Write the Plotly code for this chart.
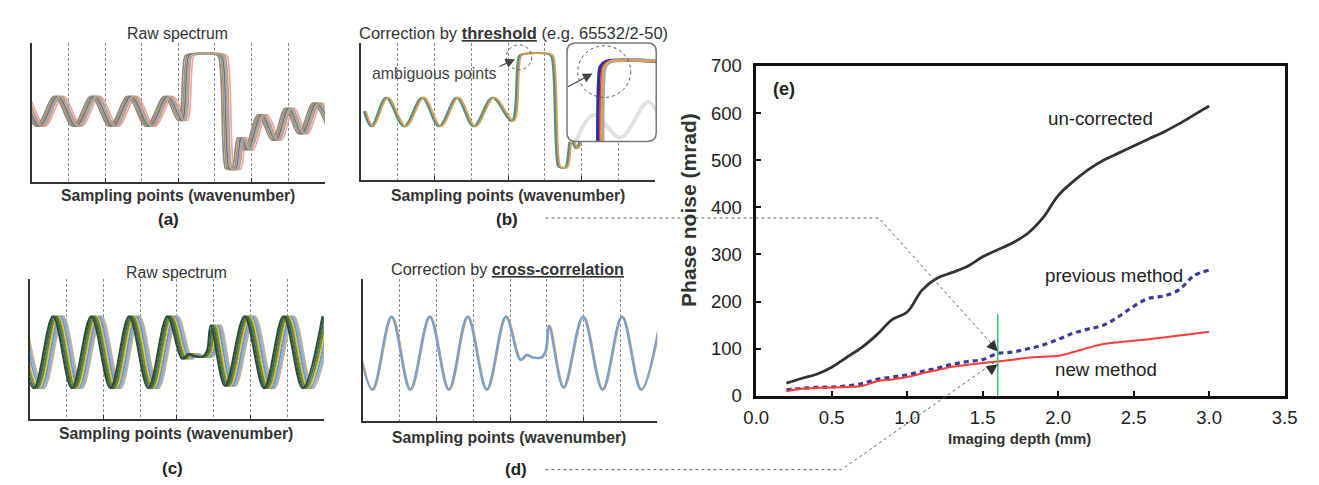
import plotly.graph_objects as go

W, H = 1319, 485
FONT = "Liberation Sans, Arial, sans-serif"

# ---------------- panel (e) data ----------------
depth_mm = [0.2, 0.3, 0.4, 0.5, 0.6, 0.7, 0.8, 0.9, 1.0, 1.1, 1.2, 1.3, 1.4, 1.5,
            1.6, 1.7, 1.8, 1.9, 2.0, 2.1, 2.2, 2.3, 2.4, 2.5, 2.6, 2.7, 2.8, 2.9, 3.0]
uncorrected = [27, 37, 46, 61, 82, 103, 130, 162, 178, 225, 250, 262, 275, 295,
               310, 325, 345, 378, 425, 455, 480, 500, 515, 530, 545, 560, 577, 596, 615]
previous_method = [13, 16, 18, 19, 21, 26, 35, 40, 45, 52, 59, 67, 73, 77,
                   90, 93, 100, 108, 120, 133, 142, 150, 168, 190, 207, 212, 225, 255, 267]
new_method = [10, 15, 17, 18, 19, 21, 31, 35, 40, 48, 55, 62, 66, 70,
              73, 77, 81, 83, 85, 93, 102, 110, 114, 117, 120, 124, 128, 132, 136]
marker_depth = 1.6
marker_top = 174
e_xticks = [0.0, 0.5, 1.0, 1.5, 2.0, 2.5, 3.0, 3.5]
e_yticks = [0, 100, 200, 300, 400, 500, 600, 700]

# ---------------- spectra (normalised amplitude) ----------------
a_x = [-0.78, -0.28, 0.22, 0.72, 1.22, 1.72, 2.22, 2.72, 3.22, 3.72, 4.1, 4.28, 4.36,
       5.12, 5.2, 5.38, 5.44, 5.56, 5.72, 5.9, 6.28, 6.66, 7.02, 7.38, 7.78, 8.2]
a_v = [0.40, 0.614, 0.40, 0.614, 0.40, 0.614, 0.40, 0.614, 0.40, 0.614, 0.44, 0.905, 0.917,
       0.917, 0.90, 0.10, 0.09, 0.09, 0.317, 0.228, 0.483, 0.297, 0.53, 0.345, 0.566, 0.36]
a_shifts = [0.14, -0.10, -0.05, 0.0, 0.04, 0.08]

b_x = [0.1, 0.3, 0.7, 1.19, 1.68, 2.14, 2.62, 3.08, 3.59, 4.12, 4.32, 4.42, 5.12, 5.2,
       5.38, 5.44, 5.58, 5.72, 5.87, 6.25, 6.65, 7.02, 7.4, 7.8, 8.2]
b_v = [0.50, 0.39, 0.60, 0.39, 0.60, 0.39, 0.60, 0.39, 0.60, 0.43, 0.905, 0.918, 0.918, 0.90,
       0.10, 0.09, 0.09, 0.30, 0.23, 0.48, 0.30, 0.53, 0.35, 0.56, 0.30]
b_shifts = [-0.03, 0.0, 0.03]

cd_x = [-0.27, 0.25, 0.77, 1.28, 1.81, 2.33, 2.84, 3.36, 3.88, 4.28, 4.45, 4.6, 4.85, 4.96,
        5.06, 5.45, 5.98, 6.51, 7.04, 7.56, 8.1]
cd_v = [0.735, 0.22, 0.735, 0.22, 0.735, 0.22, 0.735, 0.22, 0.735, 0.43, 0.465, 0.448, 0.448,
        0.49, 0.67, 0.235, 0.735, 0.22, 0.735, 0.22, 0.735]
c_shifts = [0.14, 0.10, 0.05, 0.0, -0.04, -0.09, -0.14]
d_shifts = [0.015, 0.0]

inset_edge_x = [0.0, 0.01, 0.03, 0.09, 0.7]
inset_edge_v = [-0.05, 0.60, 0.76, 0.81, 0.81]
inset_edge_pos = [0.345, 0.37, 0.40, 0.385]
inset_sine_x = [0.1, 0.30, 0.60, 0.91, 1.1]
inset_sine_v = [0.0, 0.27, 0.04, 0.40, 0.1]
grid_vals = [1, 2, 3, 4, 5, 6, 7, 8]

# ---------------- styles ----------------
a_colors = ['#f3a3a3', '#8a8a8a', '#a89060', '#6e6e78', '#a0a8c0', '#b5a27c']
b_colors = ['#4f9a5f', '#5b7fb8', '#d9a24a']
c_colors = ['#c9b08a', '#8fb0d8', '#6f95c8', '#e6c436', '#6b8a3a', '#3d6b45', '#2e4a38']
d_colors = ['#d9b25a', '#7a9fd0']
inset_colors = ['#3030a0', '#e03030', '#a8a8a8', '#e0a040']
inset_widths = [3.5, 1.5, 3.5, 2]


def fx(p):
    return p / W


def fy(p):
    return 1 - p / H


fig = go.Figure()

# (e) main chart -> x / y
fig.add_trace(go.Scatter(x=depth_mm, y=uncorrected, mode='lines', line=dict(color='#333333', width=2.8, shape='spline'), xaxis='x', yaxis='y'))
fig.add_trace(go.Scatter(x=depth_mm, y=previous_method, mode='lines', line=dict(color='#3a3a98', width=3.2, dash='5px,4px', shape='spline'), xaxis='x', yaxis='y'))
fig.add_trace(go.Scatter(x=depth_mm, y=new_method, mode='lines', line=dict(color='#ff3b3b', width=2, shape='spline'), xaxis='x', yaxis='y'))

# (a) -> x2/y2
for s, c in zip(a_shifts, a_colors):
    fig.add_trace(go.Scatter(x=[v + s for v in a_x], y=a_v, mode='lines', line=dict(color=c, width=1.7, shape='spline'), xaxis='x2', yaxis='y2'))
# (b) -> x3/y3
for s, c in zip(b_shifts, b_colors):
    fig.add_trace(go.Scatter(x=[v + s for v in b_x], y=b_v, mode='lines', line=dict(color=c, width=1.8, shape='spline'), xaxis='x3', yaxis='y3'))
# (c) -> x4/y4
for s, c in zip(c_shifts, c_colors):
    fig.add_trace(go.Scatter(x=[v + s for v in cd_x], y=cd_v, mode='lines', line=dict(color=c, width=2, shape='spline'), xaxis='x4', yaxis='y4'))
# (d) -> x5/y5
for s, c in zip(d_shifts, d_colors):
    fig.add_trace(go.Scatter(x=[v + s for v in cd_x], y=cd_v, mode='lines', line=dict(color=c, width=2.4, shape='spline'), xaxis='x5', yaxis='y5'))

# inset -> x6/y6 (white background cover then zoomed curves)
fig.add_trace(go.Scatter(x=[0, 1, 1, 0, 0], y=[0, 0, 1, 1, 0], mode='lines', fill='toself', fillcolor='white', line=dict(width=0, color='white'), xaxis='x6', yaxis='y6'))
fig.add_trace(go.Scatter(x=inset_sine_x, y=inset_sine_v, mode='lines', line=dict(color='#e2e2e2', width=4, shape='spline'), xaxis='x6', yaxis='y6'))
for p, c, w in zip(inset_edge_pos, inset_colors, inset_widths):
    fig.add_trace(go.Scatter(x=[v + p for v in inset_edge_x], y=inset_edge_v, mode='lines', line=dict(color=c, width=w, shape='spline'), xaxis='x6', yaxis='y6'))


def spec_x(x0, x1, anchor):
    return dict(domain=[fx(x0), fx(x1)], range=[0, 8], anchor=anchor, showline=True, linecolor='#333333', linewidth=2,
                tickvals=[2, 4, 6], ticks='inside', ticklen=4, tickcolor='#333333', showticklabels=False,
                showgrid=False, zeroline=False,
                minor=dict(tickvals=grid_vals, showgrid=True, griddash='3px,2px', gridcolor='#8c8c8c', gridwidth=1, ticks=''))


def spec_y(y0, y1, anchor):
    return dict(domain=[fy(y1), fy(y0)], range=[0, 1], anchor=anchor, showline=True, linecolor='#333333', linewidth=2,
                showticklabels=False, ticks='', showgrid=False, zeroline=False)


fig.update_layout(
    width=W, height=H, margin=dict(l=0, r=0, t=0, b=0),
    paper_bgcolor='white', plot_bgcolor='white', showlegend=False,
    font=dict(family=FONT, color='#222222'),
    xaxis=dict(domain=[fx(750), fx(1289)], range=[0, 3.5], anchor='y', tickvals=e_xticks, tickformat='.1f',
               ticks='inside', ticklen=5, tickwidth=2, tickcolor='#111', showline=True, linewidth=2.5,
               linecolor='#111', mirror=True, showgrid=False, zeroline=False, ticklabelstandoff=3,
               tickfont=dict(size=18.5, family=FONT, color='#222')),
    yaxis=dict(domain=[fy(394), fy(49)], range=[0, 700], anchor='x', tickvals=e_yticks,
               ticks='inside', ticklen=5, tickwidth=2, tickcolor='#111', showline=True, linewidth=2.5,
               linecolor='#111', mirror=True, showgrid=False, zeroline=False, ticklabelstandoff=8,
               tickfont=dict(size=18.5, family=FONT, color='#222')),
    xaxis2=spec_x(11, 310, 'y2'), yaxis2=spec_y(25, 170, 'x2'),
    xaxis3=spec_x(347, 647, 'y3'), yaxis3=spec_y(25, 168, 'x3'),
    xaxis4=spec_x(9, 309, 'y4'), yaxis4=spec_y(272, 418, 'x4'),
    xaxis5=spec_x(349, 649, 'y5'), yaxis5=spec_y(272, 420, 'x5'),
    xaxis6=dict(domain=[fx(557), fx(648)], range=[0, 1], anchor='y6', visible=False),
    yaxis6=dict(domain=[fy(128), fy(25)], range=[0, 1], anchor='x6', visible=False),
)

shapes = []
# green marker line in (e)
shapes.append(dict(type='line', xref='x', yref='y', x0=marker_depth, x1=marker_depth, y0=0, y1=marker_top,
                   line=dict(color='#2ecc71', width=1.5), layer='above'))
# callout dotted connectors
shapes.append(dict(type='path', xref='paper', yref='paper',
                   path=f"M {fx(535)},{fy(208)} L {fx(875)},{fy(208)} L {fx(994)},{fy(344)}",
                   line=dict(color='#666666', width=1, dash='dot')))
shapes.append(dict(type='path', xref='paper', yref='paper',
                   path=f"M {fx(535)},{fy(471)} L {fx(837)},{fy(471)} L {fx(994)},{fy(358)}",
                   line=dict(color='#666666', width=1, dash='dot')))
# dotted circles in (b)
shapes.append(dict(type='circle', xref='paper', yref='paper', x0=fx(495), x1=fx(521), y0=fy(53), y1=fy(27),
                   line=dict(color='#555555', width=1, dash='dot'), layer='above'))
shapes.append(dict(type='circle', xref='paper', yref='paper', x0=fx(568), x1=fx(622), y0=fy(82), y1=fy(28),
                   line=dict(color='#555555', width=1, dash='dot'), layer='above'))
# inset rounded frame
x0, x1, y0, y1, r = 557, 648, 25, 128, 9
path = (f"M {fx(x0 + r)},{fy(y0)} L {fx(x1 - r)},{fy(y0)} Q {fx(x1)},{fy(y0)} {fx(x1)},{fy(y0 + r)} "
        f"L {fx(x1)},{fy(y1 - r)} Q {fx(x1)},{fy(y1)} {fx(x1 - r)},{fy(y1)} "
        f"L {fx(x0 + r)},{fy(y1)} Q {fx(x0)},{fy(y1)} {fx(x0)},{fy(y1 - r)} "
        f"L {fx(x0)},{fy(y0 + r)} Q {fx(x0)},{fy(y0)} {fx(x0 + r)},{fy(y0)} Z")
shapes.append(dict(type='path', xref='paper', yref='paper', path=path,
                   line=dict(color='#777777', width=1.5), layer='above'))
fig.update_layout(shapes=shapes)

ann = []


def text(x, y, s, size=15, bold=False, color='#333333', angle=0):
    ann.append(dict(xref='paper', yref='paper', x=fx(x), y=fy(y), text=(f"<b>{s}</b>" if bold else s),
                    showarrow=False, xanchor='center', yanchor='middle', textangle=angle,
                    font=dict(size=size, family=FONT, color=color)))


text(160, 15, "Raw spectrum", 15.8)
text(502, 15, 'Correction by <b><span style="text-decoration:underline">threshold</span></b> (e.g. 65532/2-50)', 16.5)
text(159, 265, "Raw spectrum", 15.8)
text(496, 261, 'Correction by <b><span style="text-decoration:underline">cross-correlation</span></b>', 16.2)
text(422, 57, "ambiguous points", 15.9, color='#444444')
for cx, cy in [(160, 184), (497, 184), (158, 433), (498, 437)]:
    text(cx, cy, "Sampling points (wavenumber)", 15.8, bold=True, color='#333333')
text(150, 210, "(a)", 17, bold=True, color='#222222')
text(496, 210, "(b)", 17, bold=True, color='#222222')
text(155, 470, "(c)", 17, bold=True, color='#222222')
text(505, 471, "(d)", 17, bold=True, color='#222222')
text(778, 73, "(e)", 18, bold=True, color='#222222')
text(1101, 104, "un-corrected", 18.7, color='#222222')
text(1115, 268, "previous method", 18.7, color='#222222')
text(1107, 366, "new method", 18.7, color='#222222')
text(681, 200, "Phase noise (mrad)", 21, bold=True, color='#333333', angle=-90)
text(1019, 439, "Imaging depth (mm)", 15, bold=True, color='#333333')

# arrows
ann.append(dict(xref='x', yref='y', x=marker_depth, y=previous_method[depth_mm.index(marker_depth)] + 4,
                ax=-9, ay=-10, showarrow=True, arrowhead=2, arrowsize=2.2, arrowwidth=1,
                arrowcolor='#333333', text=''))
ann.append(dict(xref='x', yref='y', x=marker_depth, y=new_method[depth_mm.index(marker_depth)] - 6,
                ax=-10, ay=7, showarrow=True, arrowhead=2, arrowsize=2.2, arrowwidth=1,
                arrowcolor='#333333', text=''))
ann.append(dict(xref='paper', yref='paper', x=fx(504), y=fy(42), ax=-17, ay=8, showarrow=True,
                arrowhead=2, arrowsize=1.6, arrowwidth=1.2, arrowcolor='#444444', text=''))
ann.append(dict(xref='paper', yref='paper', x=fx(583), y=fy(57), ax=-26, ay=14, showarrow=True,
                arrowhead=2, arrowsize=1.6, arrowwidth=1.2, arrowcolor='#444444', text=''))
fig.update_layout(annotations=ann)

fig.write_html("out.html")
